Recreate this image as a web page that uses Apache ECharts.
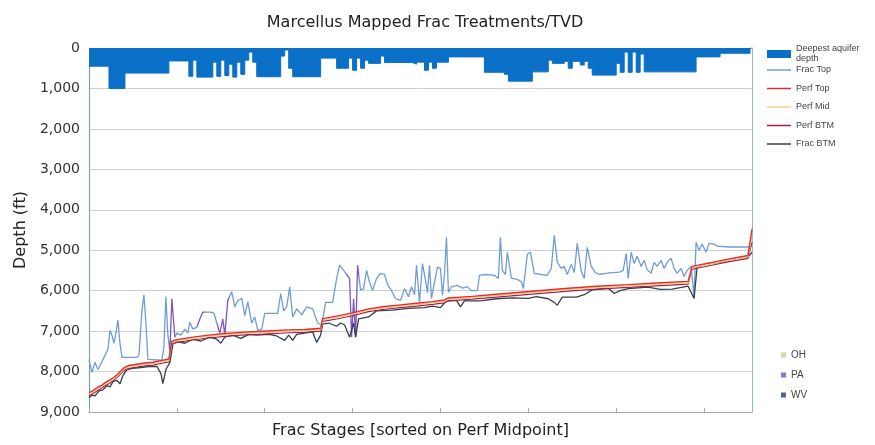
<!DOCTYPE html>
<html lang="en">
  <head>
    <meta charset="UTF-8" />
    <title>Marcellus Mapped Frac Treatments/TVD</title>
    <script src="https://cdn.jsdelivr.net/npm/echarts@6.0.0/dist/echarts.min.js"></script>
    <style>
      html, body { margin: 0; padding: 0; background: #fff; }
      #box { width: 875px; height: 445px; }
    </style>
  </head>
  <body>
    <div id="box"></div>
    <script>
      // y ticks (depth, ft)
      var depthTicks = [0, 1000, 2000, 3000, 4000, 5000, 6000, 7000, 8000, 9000];
      var stageMax = 166;

      // deepest aquifer depth, [stage, depth] where the value changes
      var aquifer = [
        [0, 450], [5, 1000], [9, 620], [20, 320], [25, 700], [26, 300], [27, 720], [31, 350],
        [32, 700], [33, 300], [34, 680], [35, 400], [36, 720], [37, 350], [38, 650], [39, 300],
        [40, 100], [41, 350], [42, 710], [48, 200], [49, 50], [50, 500], [51, 710], [58, 250],
        [62, 500], [65, 250], [66, 550], [67, 250], [68, 500], [69, 300], [70, 380], [73, 200],
        [74, 360], [81, 400], [82, 350], [84, 550], [85, 350], [86, 500], [87, 350], [90, 220],
        [99, 600], [104, 650], [105, 820], [111, 590], [115, 300], [116, 380], [119, 330], [120, 500],
        [121, 330], [123, 420], [124, 330], [125, 500], [126, 670], [132, 380], [133, 600], [134, 100],
        [135, 600], [136, 100], [137, 600], [138, 150], [139, 590], [152, 220], [158, 130], [165.5, 0],
        [166, 0]
      ];

      var fracTop = [
        [0, 7700], [0.75, 8020], [1.5, 7770], [2.25, 7950], [3, 7800], [4, 7600], [4.75, 7450],
        [5.25, 6980], [5.75, 7100], [6.25, 7300], [6.75, 7050], [7.25, 6730], [7.75, 7300], [8.25, 7650],
        [12, 7650], [12.5, 7600], [13.25, 6500], [13.75, 6100], [14.25, 6800], [14.75, 7700], [18.25, 7720],
        [18.75, 7400], [19.25, 6150], [19.75, 7100], [20.25, 7500], [20.75, 6200], [21.5, 7150],
        [22, 7050], [23, 7100], [24, 6950], [24.75, 7050], [25.25, 6780], [26, 6950], [27, 6900],
        [27.75, 6700], [28.5, 6530], [30.25, 6530], [31.25, 6550], [32, 6800], [32.75, 7050], [33.5, 6700],
        [34, 7100], [34.75, 6240], [35.75, 6030], [36.5, 6400], [37.25, 6250], [38.25, 6190], [39, 6620],
        [39.75, 6270], [40.75, 6800], [41.5, 6650], [42.25, 6980], [43.25, 6950], [44, 6560], [47.25, 6560],
        [48, 6070], [48.75, 6500], [49.5, 6400], [50.25, 5910], [51, 6650], [52, 6450], [53.25, 6600],
        [54.5, 6400], [56, 6450], [57.25, 6800], [58.25, 6850], [59.25, 6290], [61, 6290], [62, 5700],
        [62.75, 5370], [63.75, 5500], [64.5, 5600], [65.25, 5700], [65.75, 7150], [66.25, 6200],
        [66.75, 7150], [67.25, 5370], [68, 5990], [68.75, 5950], [69.5, 5500], [70.25, 5800], [71, 5990],
        [72, 5700], [73, 5570], [74, 5600], [74.75, 5850], [75.75, 6000], [76.75, 6200], [78, 6240],
        [79, 5950], [80, 6150], [80.75, 5900], [81.5, 6100], [82, 5370], [82.75, 6300], [83.5, 5330],
        [84.25, 5740], [84.75, 6050], [85.25, 5370], [85.75, 6190], [86.5, 5800], [87.25, 5420], [88, 5450],
        [88.5, 6110], [89, 5600], [89.5, 4680], [90, 6040], [90.75, 5900], [92.25, 5870], [93.5, 5940],
        [94.75, 5900], [95.75, 6000], [97.25, 6000], [97.75, 5620], [99.25, 5600], [101.5, 5620],
        [102.5, 5700], [103, 4680], [103.5, 5500], [104.25, 5600], [104.75, 5050], [105.75, 5690],
        [107.25, 5720], [108.25, 5780], [108.75, 5950], [109.75, 5100], [110.5, 5050], [111.5, 5570],
        [113.25, 5600], [114.75, 5620], [115.75, 5450], [116.5, 4630], [117.25, 5300], [118.25, 5450],
        [119, 5400], [119.75, 5600], [120.75, 5350], [121.5, 5550], [122.25, 4830], [123.25, 5520],
        [124, 5700], [124.75, 4930], [125.75, 5400], [126.75, 5550], [127.75, 5600], [130.25, 5560],
        [132.75, 5540], [133.75, 5500], [134.5, 5080], [135, 5700], [135.75, 5050], [136.5, 5330],
        [137.25, 5150], [138.25, 5400], [139, 5250], [139.75, 5480], [140.75, 5570], [141.5, 5300],
        [142.25, 5400], [143.25, 5250], [144, 5450], [144.75, 5300], [145.75, 5200], [146.5, 5450],
        [147.25, 5570], [148.25, 5450], [149, 5650], [149.75, 5500], [150.75, 5400], [151.5, 6150],
        [152, 4800], [152.75, 5000], [153.5, 4850], [154.5, 5050], [155.25, 4830], [156.5, 4850],
        [157.25, 4900], [160.25, 4920], [164.75, 4920], [166, 4900]
      ];

      var perfStage = [0, 1, 2, 3, 4, 5, 6, 7, 8, 9, 10, 12, 14, 16, 18, 20, 20.75, 22, 26, 30, 34, 38, 42, 46,
        50, 54, 58, 58.5, 62, 66, 70, 74, 78, 82, 86, 89, 90, 96, 102, 108, 114, 120, 127, 135, 142, 150,
        151, 155, 160, 165, 166];
      var perfTop = [8520, 8470, 8400, 8350, 8280, 8220, 8160, 8080, 7980, 7890, 7850, 7820, 7790, 7770, 7730,
        7690, 7250, 7210, 7150, 7100, 7060, 7030, 7010, 6990, 6970, 6960, 6930, 6690, 6630, 6550, 6450, 6390,
        6350, 6310, 6270, 6230, 6180, 6140, 6090, 6040, 5990, 5940, 5890, 5850, 5810, 5770, 5400, 5320, 5220,
        5130, 4480];
      var perfMid = [8560, 8500, 8440, 8380, 8310, 8260, 8190, 8110, 8010, 7920, 7880, 7850, 7820, 7800, 7760,
        7720, 7280, 7240, 7180, 7130, 7090, 7060, 7040, 7020, 7000, 6990, 6960, 6720, 6660, 6580, 6480, 6420,
        6380, 6340, 6300, 6260, 6210, 6170, 6120, 6070, 6020, 5970, 5920, 5880, 5840, 5800, 5430, 5350, 5250,
        5160, 4650];
      var perfBtm = [8600, 8540, 8480, 8420, 8350, 8300, 8230, 8150, 8050, 7960, 7920, 7890, 7860, 7840, 7800,
        7760, 7320, 7280, 7220, 7170, 7130, 7100, 7080, 7060, 7040, 7030, 7000, 6760, 6700, 6620, 6520, 6460,
        6420, 6380, 6340, 6300, 6250, 6210, 6160, 6110, 6060, 6010, 5960, 5920, 5880, 5840, 5470, 5390, 5290,
        5200, 4800];

      var fracBtm = [
        [0, 8650], [0.75, 8580], [1.5, 8600], [2.5, 8480], [3.5, 8450], [4.5, 8350], [5.25, 8380], [6, 8250],
        [7, 8220], [7.75, 8300], [8.5, 8100], [9.5, 7950], [11, 7920], [13, 7900], [15, 7880], [17, 7870],
        [18, 8050], [18.5, 8300], [19.25, 7950], [20.25, 7780], [21, 7320], [22, 7260], [24, 7300], [26, 7200],
        [28, 7250], [30, 7150], [32, 7200], [33, 7300], [34, 7150], [36, 7100], [38, 7180], [40, 7080],
        [42, 7100], [45, 7080], [47, 7120], [49, 7230], [50, 7100], [51, 7230], [52, 7080], [56, 7020],
        [57, 7280], [58, 7100], [58.5, 6830], [60, 6800], [62, 6880], [63, 6800], [64, 6850], [65.25, 7150],
        [66.25, 6800], [66.75, 7150], [67.5, 6700], [70, 6650], [72, 6500], [76, 6480], [80, 6440],
        [84, 6420], [86, 6380], [88, 6420], [89.5, 6250], [92, 6240], [93, 6400], [94, 6250], [98, 6250],
        [102, 6200], [106, 6180], [110, 6190], [112, 6150], [115, 6200], [116.5, 6290], [117.25, 6360],
        [118.5, 6160], [122, 6160], [124, 6100], [126, 5980], [130, 5940], [131.5, 6070], [133, 6000],
        [135, 5950], [140, 5910], [143, 5970], [146, 5960], [150, 5890], [151.5, 6190], [152.25, 5420],
        [155, 5330], [158, 5300], [162, 5200], [165, 5170], [166, 5050]
      ];

      // stage ranges where the frac top line is drawn in the PA colour
      var paRanges = [[20, 21.5], [27, 29], [32, 35], [64.5, 67.5]];
      var states = ["OH", "PA", "WV"];

      function pairs(xs, ys) {
        return xs.map(function (x, i) { return [x, ys[i]]; });
      }

      var fracTopColor = "#6e9dd6";
      var paColor = "#7b55c4";
      var pieces = [];
      var from = -Infinity;
      paRanges.forEach(function (r) {
        pieces.push({ gte: from, lt: r[0], color: fracTopColor });
        pieces.push({ gte: r[0], lt: r[1], color: paColor });
        from = r[1];
      });
      pieces.push({ gte: from, color: fracTopColor });

      var font = "DejaVu Sans";
      var lineIcon = "path://M0,0 L32,0 L32,2 L0,2 Z";
      var myChart = echarts.init(document.getElementById("box"));
      var option = {
        backgroundColor: "#fff",
        animation: false,
        title: {
          text: "Marcellus Mapped Frac Treatments/TVD",
          left: 420,
          top: 10,
          textAlign: "center",
          textStyle: { fontFamily: font, fontSize: 16, fontWeight: "normal", color: "#222" },
        },
        grid: { left: 89, right: 123, top: 48, bottom: 33 },
        legend: [
          {
            orient: "vertical",
            left: 767,
            top: 44,
            padding: 0,
            itemWidth: 24,
            itemHeight: 8,
            textStyle: { fontFamily: "Arial", fontSize: 9, color: "#444", lineHeight: 10 },
            formatter: function () { return "Deepest aquifer\ndepth"; },
            data: [{ name: "Deepest aquifer depth", icon: "rect" }],
          },
          {
            orient: "vertical",
            left: 767,
            top: 65,
            padding: 0,
            itemWidth: 24,
            itemHeight: 8,
            itemGap: 8.5,
            icon: lineIcon,
            textStyle: { fontFamily: "Arial", fontSize: 9, color: "#444", lineHeight: 10 },
            data: [
              { name: "Frac Top", itemStyle: { color: fracTopColor } },
              "Perf Top",
              "Perf Mid",
              "Perf BTM",
              "Frac BTM",
            ],
          },
          {
            orient: "vertical",
            left: 781,
            top: 350,
            padding: 0,
            itemWidth: 5,
            itemHeight: 5,
            itemGap: 10,
            icon: "rect",
            textStyle: { fontFamily: "Arial", fontSize: 10, color: "#444" },
            data: states,
          },
        ],
        visualMap: {
          type: "piecewise",
          show: false,
          seriesIndex: 1,
          dimension: 0,
          pieces: pieces,
        },
        xAxis: {
          type: "value",
          min: 0,
          max: stageMax,
          interval: 22,
          name: "Frac Stages [sorted on Perf Midpoint]",
          nameLocation: "middle",
          nameGap: 11,
          nameTextStyle: { fontFamily: font, fontSize: 16, color: "#222" },
          axisLine: { onZero: false, lineStyle: { color: "#aaa" } },
          axisTick: { show: true, inside: true, length: 4, lineStyle: { color: "#aaa" } },
          axisLabel: { show: false },
          splitLine: { show: false },
        },
        yAxis: [
          {
            type: "value",
            inverse: true,
            min: depthTicks[0],
            max: depthTicks[depthTicks.length - 1],
            interval: 1000,
            name: "Depth (ft)",
            nameLocation: "middle",
            nameGap: 56,
            nameTextStyle: { fontFamily: font, fontSize: 16, color: "#222" },
            axisLine: { show: true, lineStyle: { color: "#6b97c4" } },
            axisTick: { show: false },
            axisLabel: {
              fontFamily: font,
              fontSize: 14,
              color: "#333",
              margin: 9,
              formatter: function (v) { return v.toLocaleString("en-US"); },
            },
            splitLine: { lineStyle: { color: "#cfcfcf" } },
          },
          {
            type: "value",
            inverse: true,
            min: 0,
            max: 9000,
            position: "right",
            axisLine: { show: true, lineStyle: { color: "#8db6e0" } },
            axisTick: { show: false },
            axisLabel: { show: false },
            splitLine: { show: false },
          },
        ],
        series: [
          {
            name: "Deepest aquifer depth",
            type: "line",
            step: "end",
            symbol: "none",
            data: aquifer,
            itemStyle: { color: "#0a6fc6" },
            lineStyle: { color: "#0a6fc6", width: 1 },
            areaStyle: { color: "#0a6fc6", opacity: 1 },
            z: 1,
          },
          {
            name: "Frac Top",
            type: "line",
            symbol: "none",
            data: fracTop,
            lineStyle: { width: 1.3 },
            z: 2,
          },
          {
            name: "Frac BTM",
            type: "line",
            symbol: "none",
            data: fracBtm,
            itemStyle: { color: "#34404c" },
            lineStyle: { color: "#34404c", width: 1.3 },
            z: 3,
          },
          {
            name: "Perf BTM",
            type: "line",
            symbol: "none",
            data: pairs(perfStage, perfBtm),
            itemStyle: { color: "#a3204a" },
            lineStyle: { color: "#a3204a", width: 1.2 },
            z: 4,
          },
          {
            name: "Perf Mid",
            type: "line",
            symbol: "none",
            data: pairs(perfStage, perfMid),
            itemStyle: { color: "#f3cf8c" },
            lineStyle: { color: "#f3cf8c", width: 1.5 },
            z: 5,
          },
          {
            name: "Perf Top",
            type: "line",
            symbol: "none",
            data: pairs(perfStage, perfTop),
            itemStyle: { color: "#e0302c" },
            lineStyle: { color: "#e0302c", width: 1.4 },
            z: 6,
          },
          { name: "OH", type: "scatter", data: [], itemStyle: { color: "#bcd68c" } },
          { name: "PA", type: "scatter", data: [], itemStyle: { color: "#5b5fc7" } },
          { name: "WV", type: "scatter", data: [], itemStyle: { color: "#2c3a78" } },
        ],
      };
      myChart.setOption(option);
    </script>
  </body>
</html>
